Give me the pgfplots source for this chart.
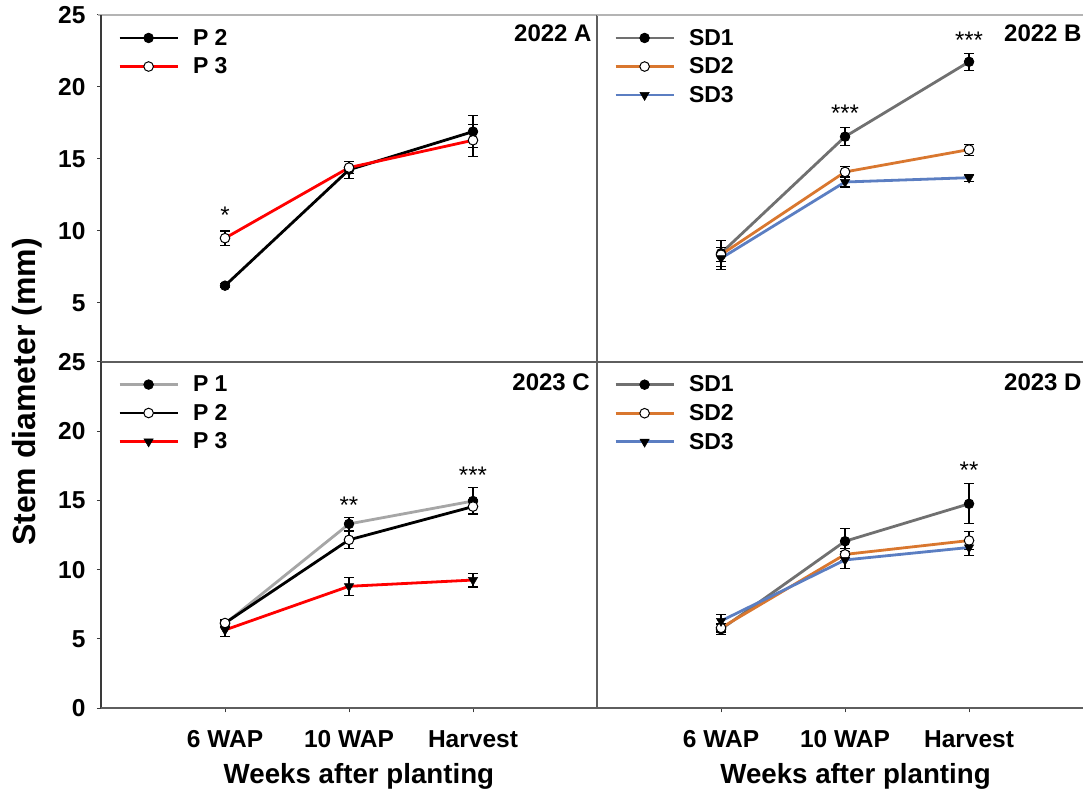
\documentclass[border=0pt]{standalone}
\usepackage{fontspec}
\setmainfont{Liberation Sans}
\usepackage{pgfplots}
\pgfplotsset{compat=1.18}
\definecolor{pone}{HTML}{A6A6A6}
\definecolor{pthree}{HTML}{FF0000}
\definecolor{sdone}{HTML}{707070}
\definecolor{sdtwo}{HTML}{D9772F}
\definecolor{sdthree}{HTML}{5B7EC2}
\definecolor{framedark}{HTML}{3A3A3A}
\definecolor{framemid}{HTML}{5E5E5E}
\definecolor{framelight}{HTML}{B4B4B4}
\newcommand{\tfont}{\fontsize{24.5}{28}\selectfont\bfseries}
\newcommand{\lfont}{\fontsize{23}{27}\selectfont\bfseries}
\tikzset{
  starlab/.style={anchor=base, font=\fontsize{24}{28}\selectfont},
  panlab/.style={inner sep=0pt, font=\fontsize{24}{28}\selectfont\bfseries},
}
\pgfplotsset{
  panel/.style={
    scale only axis, clip=false,
    axis line style={draw=none},
    /pgf/number format/assume math mode=true,
    tick label style={font=\tfont},
    yticklabel style={xshift=-8pt},
    tick align=outside, major tick length=4pt,
    tick style={framedark, line width=1pt},
    legend style={draw=none, fill=none, inner sep=0pt, anchor=north west,
      at={(axis description cs:0,1)}, xshift=17pt, yshift=-14pt,
      font=\lfont, row sep=11pt, column sep=14pt, nodes={inner sep=0pt}},
    legend cell align=left,
    legend image code/.code={\draw[mark repeat=2,mark phase=2,##1,line width=2.8pt] plot coordinates {(0pt,0pt) (29pt,0pt) (58pt,0pt)};},
  },
  leftp/.style={panel, xmin=0, xmax=4, width=496pt, ytick pos=left},
  rightp/.style={panel, xmin=0, xmax=3.919, width=486pt, ytick=\empty},
  topp/.style={ymin=0.92, ymax=25, height=346.7pt, xtick=\empty},
  botp/.style={ymin=0, ymax=25, height=346.6pt, xtick={1,2,3}, xtick pos=left,
    xticklabels={6 WAP,10 WAP,Harvest}, xticklabel style={yshift=-15pt}},
  ser/.style={line width=2.8pt, #1,
    error bars/y dir=both, error bars/y explicit,
    error bars/error bar style={black, line width=1.1pt, solid},
    error bars/error mark options={rotate=90, mark size=5pt, black, line width=1.1pt}},
  sfill/.style={mark=*, mark size=4.8pt, mark options={fill=black, draw=black, line width=0.8pt}},
  sopen/.style={mark=*, mark size=4.8pt, mark options={fill=white, draw=black, line width=1pt}},
  stri/.style={mark=triangle*, mark size=5.4pt, mark options={fill=black, draw=black, rotate=180, line width=0.5pt}},
  xlab/.style={xlabel style={at={(axis description cs:#1,0)}, anchor=base, yshift=-75pt, font=\fontsize{27.7}{32}\selectfont\bfseries}},
}
\begin{document}
\begin{tikzpicture}
\useasboundingbox (0,0) rectangle (1083pt,799pt);
% ---------------- 2022 A
\begin{axis}[leftp, topp, at={(101pt,437.3pt)}, anchor=south west, ytick={5,10,15,20,25}]
\addplot[ser=black, sfill] coordinates {(1,6.2) +- (0,0.15) (2,14.25) +- (0,0.6) (3,16.9) +- (0,1.1)};
\addlegendentry{P 2}
\addplot[ser=pthree, sopen] coordinates {(1,9.5) +- (0,0.5) (2,14.4) +- (0,0.4) (3,16.3) +- (0,1.1)};
\addlegendentry{P 3}
\node[starlab] at (axis cs:1,10.5) {*};
\node[panlab, anchor=base east] at (rel axis cs:0.9895,0.923) {2022 A};
\draw[framelight, line width=2.5pt] (rel axis cs:-0.006,1) -- (rel axis cs:1,1);
\draw[framedark, line width=2pt] (rel axis cs:0,0) -- (rel axis cs:0,1);
\draw[framemid, line width=2pt] (rel axis cs:1,0) -- (rel axis cs:1,1);
\draw[framemid, line width=2pt] (rel axis cs:0,0) -- (rel axis cs:1,0);
\end{axis}
% ---------------- 2022 B
\begin{axis}[rightp, topp, at={(597pt,437.3pt)}, anchor=south west]
\addplot[ser=sdone, sfill] coordinates {(1,8.45) +- (0,0.9) (2,16.55) +- (0,0.62) (3,21.75) +- (0,0.6)};
\addlegendentry{SD1}
\addplot[ser=sdtwo, sopen] coordinates {(1,8.35) +- (0,0.5) (2,14.1) +- (0,0.4) (3,15.65) +- (0,0.38)};
\addlegendentry{SD2}
\addplot[ser=sdthree, stri] coordinates {(1,8.1) +- (0,0.75) (2,13.4) +- (0,0.35) (3,13.7) +- (0,0.25)};
\addlegendentry{SD3}
\node[starlab] at (axis cs:2,17.6) {***};
\node[starlab] at (axis cs:3,22.69) {***};
\node[panlab, anchor=base east] at (rel axis cs:0.9975,0.923) {2022 B};
\draw[framelight, line width=2.5pt] (rel axis cs:0,1) -- (rel axis cs:1,1);
\draw[framemid, line width=2pt] (rel axis cs:0,0) -- (rel axis cs:1,0);
\end{axis}
% ---------------- 2023 C
\begin{axis}[leftp, botp, at={(101pt,90.7pt)}, anchor=south west, ytick={0,5,10,15,20,25},
  xlabel={Weeks after planting}, xlab=0.52]
\addplot[ser=pone, sfill] coordinates {(1,6.1) +- (0,0.2) (2,13.3) +- (0,0.45) (3,14.95) +- (0,0.95)};
\addlegendentry{P 1}
\addplot[ser=black, sopen] coordinates {(1,6.15) +- (0,0.25) (2,12.15) +- (0,0.6) (3,14.55) +- (0,0.5)};
\addlegendentry{P 2}
\addplot[ser=pthree, stri] coordinates {(1,5.65) +- (0,0.5) (2,8.8) +- (0,0.65) (3,9.25) +- (0,0.5)};
\addlegendentry{P 3}
\node[starlab] at (axis cs:2,14.08) {**};
\node[starlab] at (axis cs:3,16.18) {***};
\node[panlab, anchor=base east] at (rel axis cs:0.986,0.918) {2023 C};
\node[rotate=90, anchor=center, font=\fontsize{32}{38}\selectfont\bfseries] at (axis description cs:-0.149,0.9126) {Stem diameter (mm)};
\draw[framedark, line width=2pt] (rel axis cs:0,0) -- (rel axis cs:0,1);
\draw[framemid, line width=2pt] (rel axis cs:1,0) -- (rel axis cs:1,1);
\draw[framemid, line width=2pt] (rel axis cs:0,0) -- (rel axis cs:1,0);
\end{axis}
% ---------------- 2023 D
\begin{axis}[rightp, botp, at={(597pt,90.7pt)}, anchor=south west,
  xlabel={Weeks after planting}, xlab=0.532]
\addplot[ser=sdone, sfill] coordinates {(1,5.7) +- (0,0.35) (2,12.05) +- (0,0.95) (3,14.75) +- (0,1.45)};
\addlegendentry{SD1}
\addplot[ser=sdtwo, sopen] coordinates {(1,5.8) +- (0,0.3) (2,11.1) +- (0,0.45) (3,12.1) +- (0,0.65)};
\addlegendentry{SD2}
\addplot[ser=sdthree, stri] coordinates {(1,6.3) +- (0,0.45) (2,10.7) +- (0,0.6) (3,11.6) +- (0,0.55)};
\addlegendentry{SD3}
\node[starlab] at (axis cs:3,16.54) {**};
\node[panlab, anchor=base east] at (rel axis cs:0.9975,0.918) {2023 D};
\draw[framemid, line width=2pt] (rel axis cs:0,0) -- (rel axis cs:1,0);
\end{axis}
\end{tikzpicture}
\end{document}
